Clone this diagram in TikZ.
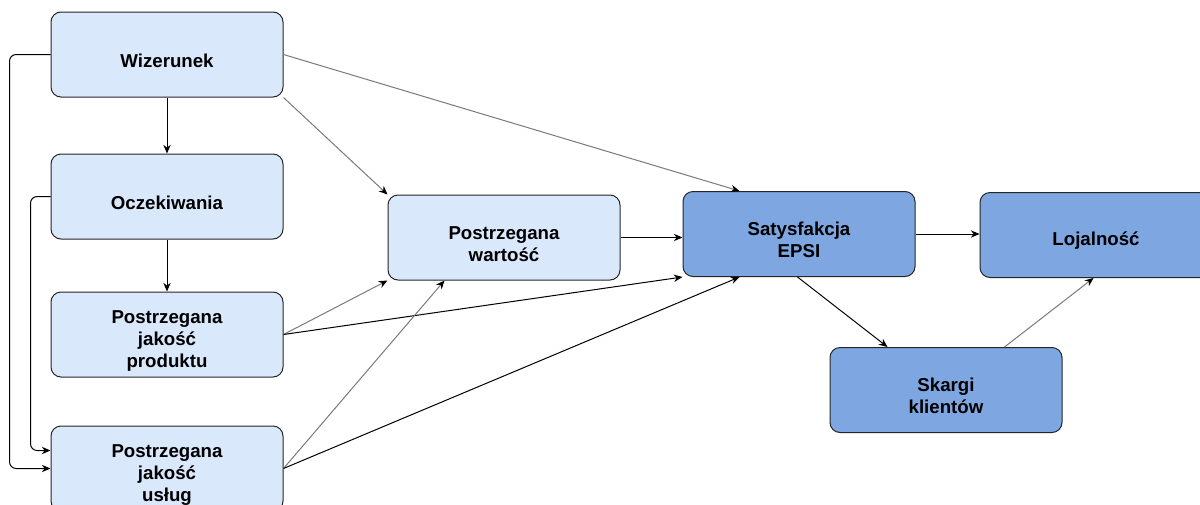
\documentclass[tikz,border=0pt]{standalone}
\usepackage{fontspec}
\setmainfont{Liberation Sans}
\usetikzlibrary{arrows.meta,calc}
\definecolor{lightbox}{HTML}{DAE8FC}
\definecolor{darkbox}{HTML}{7EA6E0}
\definecolor{linkgray}{HTML}{7A7A7A}
% invisible strut that lowers box labels a little
\newcommand{\lowstrut}{\rule{0pt}{19pt}}
\begin{document}
\begin{tikzpicture}[x=0.75pt,y=-0.75pt,
  box/.style={draw=black!85,line width=0.75pt,rounded corners=7.5pt,
    minimum width=174pt,minimum height=63.75pt,inner sep=0pt,
    align=center,font=\fontsize{14}{16.5}\selectfont\bfseries},
  lb/.style={box,fill=lightbox},
  db/.style={box,fill=darkbox},
  ar/.style={draw=black,line width=0.75pt,-{Stealth[length=6.5pt,width=5.5pt]}},
  arg/.style={ar,draw=linkgray,-{Stealth[length=6.5pt,width=5.5pt,color=black]}}]
\clip (0,0) rectangle (1200,504);
\fill[white] (0,0) rectangle (1200,504);

% left column
\node[lb] (wiz) at (167,54.5) {\lowstrut Wizerunek};
\node[lb] (ocz) at (167,196.5) {\lowstrut Oczekiwania};
\node[lb] (pjp) at (167,334.5) {\lowstrut Postrzegana\\jakość\\produktu};
\node[lb] (pju) at (167,468.5) {\lowstrut Postrzegana\\jakość\\usług};

% middle and right
\node[lb] (pw)  at (504,237.5) {\lowstrut Postrzegana\\wartość};
\node[db] (sat) at (799,234) {\lowstrut Satysfakcja\\EPSI};
\node[db] (loj) at (1096,235) {\lowstrut Lojalność};
\node[db] (ska) at (946,390) {\lowstrut Skargi\\klientów};

% vertical chain
\draw[ar] (wiz.south) -- (ocz.north);
\draw[ar] (ocz.south) -- (pjp.north);

% loops on the left edge
\draw[ar,rounded corners=5pt] (wiz.west) -- ++(-41,0) |- (pju.west);
\draw[ar,rounded corners=5pt] (ocz.west) -- ++(-20,0) |- ($(pju.west)+(0,-18)$);

% links into value and satisfaction
\draw[arg] (wiz.east) -- ($(sat.north west)+(57,0)$);
\draw[arg] (wiz.south east) -- (pw.north west);
\draw[arg] (pjp.east) -- (pw.south west);
\draw[ar]  (pjp.east) -- (sat.south west);
\draw[arg] (pju.east) -- ($(pw.south west)+(57,0)$);
\draw[ar]  (pju.east) -- ($(sat.south west)+(57,0)$);
\draw[ar]  (pw.east) -- (pw.east -| sat.west);

% outcomes
\draw[ar]  (sat.east) -- (sat.east -| loj.west);
\draw[ar]  ($(sat.south west)+(115,0)$) -- ($(ska.north west)+(58,0)$);
\draw[arg] ($(ska.north west)+(175,0)$) -- ($(loj.south west)+(114,0)$);
\end{tikzpicture}
\end{document}
